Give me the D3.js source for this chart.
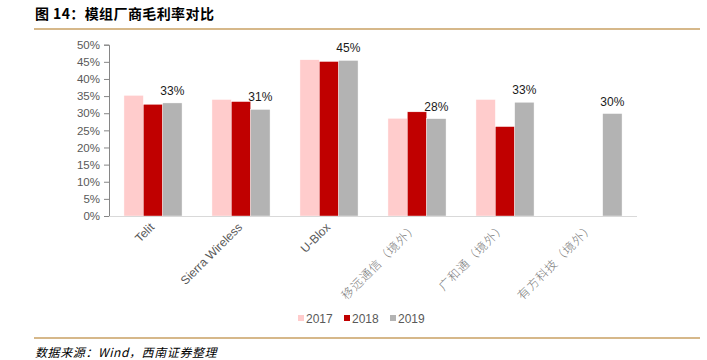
<!DOCTYPE html>
<html>
<head>
<meta charset="utf-8">
<script src="https://cdn.jsdelivr.net/npm/d3@7"></script>
<style>
	body{margin:0;background:#fff;}
	svg{display:block;}
</style>
</head>
<body>
<script>
var companies = ['Telit', 'Sierra Wireless', 'U-Blox', '移远通信（境外）', '广和通（境外）', '有方科技（境外）'];
var years = ['2017', '2018', '2019'];
var margin2017 = [0.352, 0.340, 0.456, 0.285, 0.340, null];
var margin2018 = [0.326, 0.334, 0.451, 0.304, 0.261, null];
var margin2019 = [0.330, 0.311, 0.454, 0.284, 0.332, 0.299];
var yTicks = [0, 0.05, 0.1, 0.15, 0.2, 0.25, 0.3, 0.35, 0.4, 0.45, 0.5];

var colors = ['#ffcccc', '#c00000', '#b3b3b3'];
var series = [margin2017, margin2018, margin2019];

var W = 707, H = 360;
var plotLeft = 109, plotRight = 637, plotTop = 44.7, plotBottom = 216;
var cn = '"Noto Sans CJK SC", "Noto Sans", sans-serif';
var en = '"Liberation Sans", Arial, sans-serif';

var svg = d3.select('body').append('svg')
	.attr('width', W)
	.attr('height', H);

//Title
svg.append('text')
	.attr('x', 35)
	.attr('y', 19)
	.attr('font-family', cn)
	.attr('font-size', 14)
	.attr('letter-spacing', 0.4)
	.attr('font-weight', 'bold')
	.attr('fill', '#000')
	.text('图 14：模组厂商毛利率对比');

svg.append('line')
	.attr('x1', 34).attr('x2', 700)
	.attr('y1', 29).attr('y2', 29)
	.attr('stroke', '#c9a063')
	.attr('stroke-width', 1.5);

var x = d3.scaleBand().domain(companies).range([plotLeft, plotRight]).paddingInner(0.34).paddingOuter(0.17);
var xs = d3.scaleBand().domain(years).range([0, x.bandwidth()]);
var y = d3.scaleLinear().domain([0, 0.5]).range([plotBottom, plotTop]);

//Y axis
var yAxis = svg.append('g')
	.attr('transform', 'translate(' + plotLeft + ',0)')
	.call(d3.axisLeft(y).tickValues(yTicks).tickFormat(d3.format('.0%')).tickSize(5).tickPadding(4));
yAxis.select('.domain').attr('stroke', '#868686');
yAxis.selectAll('.tick line').attr('stroke', '#868686');
yAxis.selectAll('text')
	.attr('font-family', en)
	.attr('font-size', 11.5)
	.attr('fill', '#595959');

//Bars
var groups = svg.append('g');
series.forEach(function(vals, s){
	groups.selectAll('.bar' + s)
		.data(companies.map(function(c, i){ return {c: c, v: vals[i]}; }).filter(function(d){ return d.v != null; }))
		.enter().append('rect')
		.attr('class', 'bar' + s)
		.attr('x', function(d){ return x(d.c) + xs(years[s]); })
		.attr('y', function(d){ return y(d.v); })
		.attr('width', xs.bandwidth())
		.attr('height', function(d){ return plotBottom - y(d.v); })
		.attr('fill', colors[s])
		.attr('stroke', '#fff')
		.attr('stroke-width', 0.4);
});

//Value labels on 2019
svg.selectAll('.vlabel')
	.data(companies.map(function(c, i){ return {c: c, v: margin2019[i]}; }))
	.enter().append('text')
	.attr('x', function(d){ return x(d.c) + xs('2019') + xs.bandwidth()/2; })
	.attr('y', function(d){ return y(d.v) - 8; })
	.attr('text-anchor', 'middle')
	.attr('font-family', en)
	.attr('font-size', 12)
	.attr('fill', '#1a1a1a')
	.text(function(d){ return d3.format('.0%')(d.v); });

//X axis
var xAxis = svg.append('g')
	.attr('transform', 'translate(0,' + plotBottom + ')')
	.call(d3.axisBottom(x).tickSize(0).tickPadding(0));
xAxis.select('.domain').attr('stroke', '#d9d9d9').attr('d', 'M' + plotLeft + ',0.5H' + plotRight);
xAxis.selectAll('text')
	.attr('font-family', function(d){ return /[\u4e00-\u9fff]/.test(d) ? cn : en; })
	.attr('font-size', 12)
	.attr('font-weight', function(d){ return /[\u4e00-\u9fff]/.test(d) ? 300 : 400; })
	.attr('letter-spacing', function(d){ return /[\u4e00-\u9fff]/.test(d) ? 0.8 : 0; })
	.attr('fill', function(d){ return /[\u4e00-\u9fff]/.test(d) ? '#7a7a7a' : '#595959'; })
	.attr('text-anchor', 'end')
	.attr('dy', 0)
	.attr('transform', 'translate(2,12) rotate(-45)');

//Legend
var legend = svg.append('g').attr('transform', 'translate(298,319)');
years.forEach(function(yr, i){
	var g = legend.append('g').attr('transform', 'translate(' + (i*46) + ',0)');
	g.append('rect').attr('x', 0).attr('y', -4).attr('width', 6).attr('height', 6).attr('fill', colors[i]);
	g.append('text')
		.attr('x', 8).attr('y', 4)
		.attr('font-family', en)
		.attr('font-size', 12)
		.attr('fill', '#595959')
		.text(yr);
});

//Footer
svg.append('line')
	.attr('x1', 34).attr('x2', 700)
	.attr('y1', 338).attr('y2', 338)
	.attr('stroke', '#c9a063')
	.attr('stroke-width', 1.5);

svg.append('text')
	.attr('x', 35)
	.attr('y', 357)
	.attr('font-family', cn)
	.attr('font-size', 12)
	.attr('letter-spacing', 0.6)
	.attr('font-style', 'italic')
	.attr('fill', '#000')
	.text('数据来源：Wind，西南证券整理');
</script>
</body>
</html>
